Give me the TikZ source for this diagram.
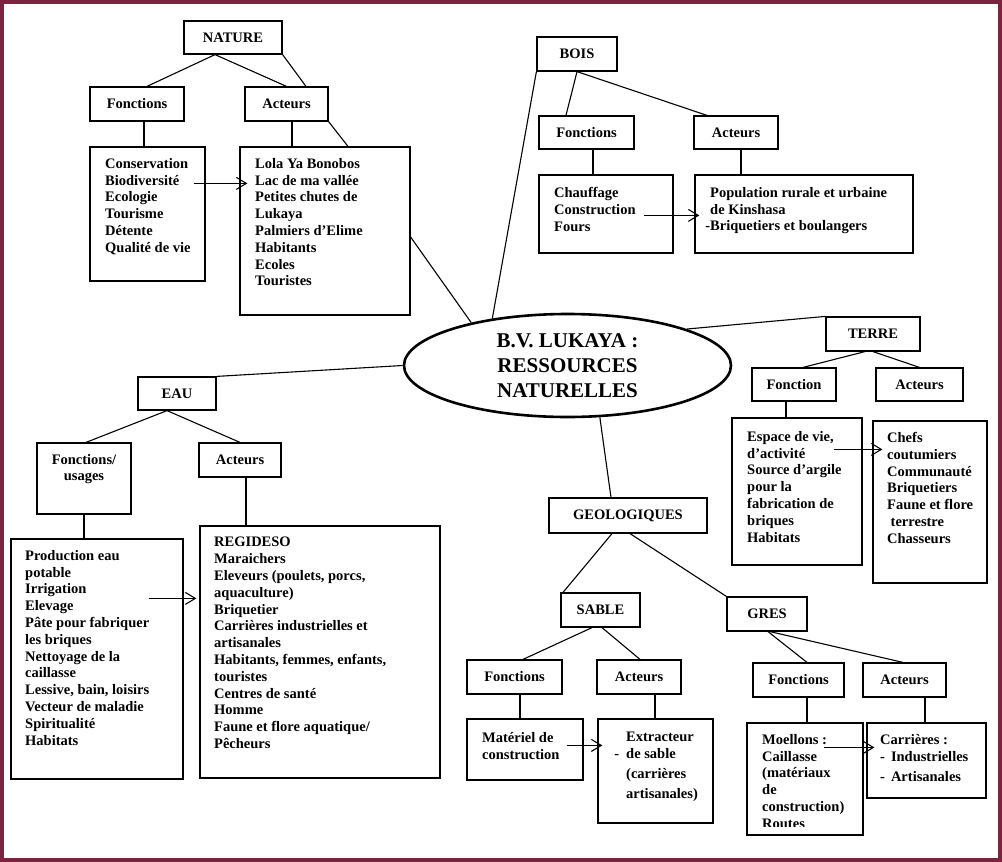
\documentclass[tikz,border=0pt]{standalone}
\usepackage{fontspec}
\setmainfont{Liberation Serif}
\usepackage{tikz}
\usetikzlibrary{shapes.geometric}
\usetikzlibrary{arrows.meta}
\usetikzlibrary{calc}
\definecolor{framered}{RGB}{122,36,64}
\tikzset{hdr/.style={ % Title boxes (NATURE, Fonctions, Acteurs ...)
           draw, line width=1.2pt, inner sep=0pt,
           font=\bfseries\fontsize{14.5}{16.8}\selectfont},
         cbox/.style={ % Empty frame of a list box
           draw, line width=1.2pt, inner sep=0pt},
         txt/.style={ % Lists written in the boxes
           anchor=north west, align=left, inner sep=0pt,
           font=\bfseries\fontsize{14.5}{16.8}\selectfont},
         link/.style={line width=1.1pt},
         arrow/.style={line width=1.1pt, -{Straight Barb[length=10pt,width=12pt,line width=1.1pt]}}}

\begin{document}
\begin{tikzpicture}[x=1pt, y=-1pt]
      \useasboundingbox (0,0) rectangle (1002,862);
      \fill[white] (0,0) rectangle (1002,862);
      \draw[framered, line width=4pt] (2,2) rectangle (1000,860);

      % centre
      \node[draw, ellipse, line width=2.6pt, minimum width=327, minimum height=103, inner sep=0pt,
            align=center, font=\bfseries\fontsize{21}{25}\selectfont] (core) at (567.5,365.5)
            {B.V. LUKAYA :\\RESSOURCES\\NATURELLES};

      % NATURE
      \node[hdr, minimum width=98, minimum height=33] (nature) at (233,37.5) {NATURE};
      \node[hdr, minimum width=94, minimum height=34] (natF) at (137,104) {Fonctions};
      \node[hdr, minimum width=83, minimum height=34] (natA) at (286.5,104) {Acteurs};
      \node[cbox, minimum width=115, minimum height=134] (natFc) at (147.5,214) {};
      \node[cbox, minimum width=170, minimum height=168] (natAc) at (325,231) {};
      \node[txt] (natFt) at (105,158) {Conservation\\Biodiversité\\Ecologie\\Tourisme\\Détente\\Qualité de vie};
      \node[txt] (natAt) at (255,158) {Lola Ya Bonobos\\Lac de ma vallée\\Petites chutes de\\Lukaya\\Palmiers d’Elime\\Habitants\\Ecoles\\Touristes};

      \draw[link] ([xshift=-18pt]nature.south) -- ([xshift=10pt]natF.north);
      \draw[link] ([xshift=-18pt]nature.south) -- (natA.north);
      \draw[link] (nature.south east) -- ([xshift=19.5pt]natA.north);
      \draw[link] ([xshift=7pt]natF.south) -- ([xshift=7pt]natF.south |- natFc.north);
      \draw[link] ([xshift=5.5pt]natA.south) -- ([xshift=5.5pt]natA.south |- natAc.north);
      \draw[link] (natA.south east) -- ([xshift=23pt]natAc.north);
      \draw[arrow] ($(natFc.north east)+(-12,37)$) -- ($(natAc.north west)+(8,37)$);
      \draw[link] ([yshift=-6pt]natAc.east) -- (core.156);

      % BOIS
      \node[hdr, minimum width=80, minimum height=34] (bois) at (577,54) {BOIS};
      \node[hdr, minimum width=95, minimum height=33] (boisF) at (586.5,132.5) {Fonctions};
      \node[hdr, minimum width=84, minimum height=33] (boisA) at (736,132.5) {Acteurs};
      \node[cbox, minimum width=134, minimum height=78] (boisFc) at (606,214) {};
      \node[cbox, minimum width=218, minimum height=78] (boisAc) at (804,214) {};
      \node[txt] (boisFt) at (554,187) {Chauffage\\Construction\\Fours};
      \node[txt] (boisAt) at (710,187) {Population rurale et urbaine\\de Kinshasa\\\llap{-}Briquetiers et boulangers};

      \draw[link] (bois.south) -- ([xshift=-20.5pt]boisF.north);
      \draw[link] (bois.south) -- ([xshift=-29pt]boisA.north);
      \draw[link] ([xshift=6.5pt]boisF.south) -- ([xshift=6.5pt]boisF.south |- boisFc.north);
      \draw[link] ([xshift=5pt]boisA.south) -- ([xshift=5pt]boisA.south |- boisAc.north);
      \draw[arrow] ($(boisFc.north east)+(-30,41)$) -- ($(boisAc.north west)+(5,41)$);
      \draw[link] (bois.south west) -- (core.148);

      % TERRE
      \node[hdr, minimum width=94, minimum height=34] (terre) at (873,334) {TERRE};
      \node[hdr, minimum width=84, minimum height=33] (terreF) at (794,384.5) {Fonction};
      \node[hdr, minimum width=87, minimum height=33] (terreA) at (919.5,384.5) {Acteurs};
      \node[cbox, minimum width=130, minimum height=147] (terreFc) at (797,491.5) {};
      \node[cbox, minimum width=114, minimum height=162] (terreAc) at (930,502) {};
      \node[txt] (terreFt) at (747,431) {Espace de vie,\\d’activité\\Source d’argile\\pour la\\fabrication de\\briques\\Habitats};
      \node[txt] (terreAt) at (887,432) {Chefs\\coutumiers\\Communauté\\Briquetiers\\Faune et flore\\\hspace{3.5pt}terrestre\\Chasseurs};

      \draw[link] (core.17) -- (terre.north west);
      \draw[link] ([xshift=-8pt]terre.south) -- ([xshift=9pt]terreF.north);
      \draw[link] (terre.south) -- (terreA.north);
      \draw[link] ([xshift=-8pt]terreF.south) -- ([xshift=-8pt]terreF.south |- terreFc.north);
      \draw[arrow] ($(terreFc.north east)+(-29,32)$) -- ($(terreAc.north west)+(10,29)$);

      % EAU
      \node[hdr, minimum width=78, minimum height=33] (eau) at (177,393.5) {EAU};
      \node[cbox, minimum width=94, minimum height=71] (eauF) at (84,478.5) {};
      \node[hdr, draw=none, align=center] (eauFt) at (84,469) {Fonctions/\\usages};
      \node[hdr, minimum width=82, minimum height=34] (eauA) at (240,460) {Acteurs};
      \node[cbox, minimum width=172, minimum height=240] (eauFc) at (97,659) {};
      \node[cbox, minimum width=240, minimum height=252] (eauAc) at (320,652) {};
      \node[txt] (eauFct) at (25,550) {Production eau\\potable\\Irrigation\\Elevage\\Pâte pour fabriquer\\les briques\\Nettoyage de la\\caillasse\\Lessive, bain, loisirs\\Vecteur de maladie\\Spiritualité\\Habitats};
      \node[txt] (eauAct) at (214,537) {REGIDESO\\Maraichers\\Eleveurs (poulets, porcs,\\aquaculture)\\Briquetier\\Carrières industrielles et\\artisanales\\Habitants, femmes, enfants,\\touristes\\Centres de santé\\Homme\\Faune et flore aquatique/\\Pêcheurs};

      \draw[link] (core.west) -- (eau.north east);
      \draw[link] ([xshift=-10pt]eau.south) -- ([xshift=2pt]eauF.north);
      \draw[link] ([xshift=-10pt]eau.south) -- (eauA.north);
      \draw[link] (eauF.south) -- (eauF.south |- eauFc.north);
      \draw[link] ([xshift=6pt]eauA.south) -- ([xshift=6pt]eauA.south |- eauAc.north);
      \draw[arrow] ($(eauFc.north east)+(-35,60)$) -- ($(eauAc.north west)+(-3,73)$);

      % GEOLOGIQUES
      \node[hdr, minimum width=158, minimum height=35] (geo) at (628,515.5) {GEOLOGIQUES};
      \node[hdr, minimum width=79, minimum height=34] (sable) at (600.5,610) {SABLE};
      \node[hdr, minimum width=80, minimum height=34] (gres) at (767,614) {GRES};
      \draw[link] (core.302) -- ([xshift=-17pt]geo.north);
      \draw[link] ([xshift=-16pt]geo.south) -- ([xshift=-37.5pt]sable.north);
      \draw[link] ([xshift=2pt]geo.south) -- (gres.north west);

      % SABLE
      \node[hdr, minimum width=95, minimum height=34] (sableF) at (514.5,677) {Fonctions};
      \node[hdr, minimum width=84, minimum height=34] (sableA) at (639,677) {Acteurs};
      \node[cbox, minimum width=116, minimum height=61] (sableFc) at (525,749.5) {};
      \node[cbox, minimum width=115, minimum height=104] (sableAc) at (655.5,771) {};
      \node[txt] (sableFt) at (482,732) {Matériel de\\construction};
      \node[txt] (sableAt) at (626,732) {Extracteur\\\llap{-\hspace{7pt}}de sable\\[3.2pt](carrières\\[3.2pt]artisanales)};

      \draw[link] ([xshift=-8.5pt]sable.south) -- ([xshift=8.5pt]sableF.north);
      \draw[link] ([xshift=1.5pt]sable.south) -- ([xshift=1pt]sableA.north);
      \draw[link] ([xshift=5.5pt]sableF.south) -- ([xshift=5.5pt]sableF.south |- sableFc.north);
      \draw[link] ([xshift=16pt]sableA.south) -- ([xshift=16pt]sableA.south |- sableAc.north);
      \draw[arrow] ($(sableFc.north east)+(-17,27)$) -- ($(sableAc.north west)+(5,27)$);

      % GRES
      \node[hdr, minimum width=91, minimum height=34] (gresF) at (798.5,680) {Fonctions};
      \node[hdr, minimum width=83, minimum height=34] (gresA) at (904.5,680) {Acteurs};
      \node[cbox, minimum width=116, minimum height=112] (gresFc) at (805,779) {};
      \node[cbox, minimum width=119, minimum height=75] (gresAc) at (926.5,760.5) {};
      \begin{scope}
        \clip (gresFc.north west) rectangle ([yshift=9pt]gresFc.south east);
        \node[txt] (gresFt) at (762,734) {Moellons :\\Caillasse\\(matériaux\\de\\construction)\\Routes};
      \end{scope}
      \node[txt] (gresAt) at (880,734) {Carrières :\\-\hspace{6pt}Industrielles\\[3.2pt]-\hspace{6pt}Artisanales};

      \draw[link] ([xshift=1pt]gres.south) -- ([xshift=8.5pt]gresF.north);
      \draw[link] ([xshift=3pt]gres.south) -- ([xshift=-1.5pt]gresA.north);
      \draw[link] ([xshift=8.5pt]gresF.south) -- ([xshift=8.5pt]gresF.south |- gresFc.north);
      \draw[link] ([xshift=20.5pt]gresA.south) -- ([xshift=20.5pt]gresA.south |- gresAc.north);
      \draw[arrow] ($(gresFc.north east)+(-40,25)$) -- ($(gresAc.north west)+(8,25)$);

    \end{tikzpicture}
\end{document}
